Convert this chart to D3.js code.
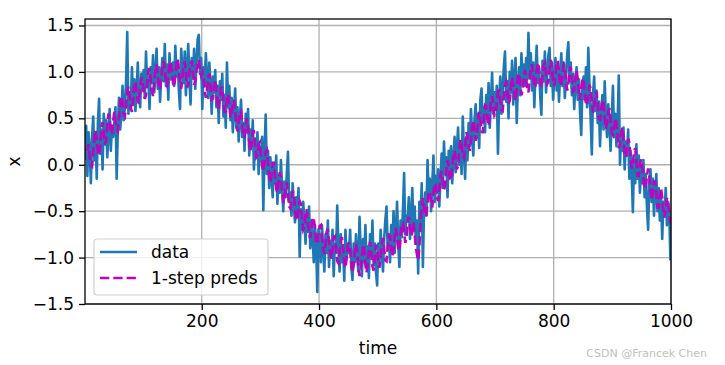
<!DOCTYPE html>
<html><head><meta charset="utf-8">
<script src="https://cdn.jsdelivr.net/npm/d3@7"></script>
<style>
body{margin:0;background:#fff;}
text{font-family:"DejaVu Sans",sans-serif;}
</style></head>
<body>
<svg id="chart" width="725" height="365"></svg>
<script>
// time steps (every 2nd step of 1..1000)
const time = d3.range(1, 1000, 2);
const predTime = d3.range(5, 1000, 2);
const xTicks = [200, 400, 600, 800, 1000];
const yTicks = [-1.5, -1.0, -0.5, 0.0, 0.5, 1.0, 1.5];
const seriesNames = ["data", "1-step preds"];

const data = [
0.05,0.42,-0.12,0.35,0.18,-0.2,0.28,0.52,0.05,0.31,-0.15,0.45,0.71,0.12,0.38,-0.05,0.55,0.22,0.48,0.08,0.35,0.6,0.15,0.42,0.3,
0.45,0.62,-0.15,0.4,0.72,0.38,0.55,0.85,0.48,0.62,0.9,1.43,0.55,0.78,0.6,1.05,0.7,0.92,0.58,0.83,1.1,0.75,0.62,0.98,0.8,
1.02,0.72,1.22,0.85,0.95,0.6,1.05,0.88,1.18,0.78,0.96,1.25,0.82,1.05,0.68,0.98,1.15,0.9,1.3,0.85,1.08,0.7,1.2,0.92,1.05,
1.1,0.85,1.28,0.95,1.12,0.8,0.6,1.25,1.0,0.88,1.22,0.75,1.05,1.3,0.92,0.65,1.15,0.95,1.25,0.82,1.08,1.35,1.4,0.98,1.15,
0.6,1.05,0.85,1.2,0.95,0.72,1.1,0.85,0.55,0.95,0.78,1.02,0.62,0.85,0.45,0.9,0.7,0.98,0.52,0.75,0.4,1.1,0.62,0.85,0.48,
0.72,0.35,0.58,0.82,0.4,0.62,0.25,0.5,0.7,0.3,0.45,0.15,0.55,0.35,0.6,0.1,0.38,0.2,0.48,-0.05,0.28,0.1,0.35,-0.1,0.2,
0.05,0.3,-0.49,0.12,0.54,-0.1,0.15,-0.25,0.08,-0.15,-0.35,0.02,-0.2,0.1,-0.42,-0.12,-0.3,0.05,-0.25,-0.5,-0.18,-0.35,-0.1,0.14,-0.4,
-0.3,-0.55,-0.2,-0.45,-0.62,-0.35,-0.5,-0.25,-0.99,-0.48,-0.7,-0.4,-0.6,-0.85,-0.5,-0.72,-0.45,-0.9,-0.6,-0.78,-1.05,-0.65,-0.85,-1.37,-0.7,
-0.8,-1.05,-0.65,-0.9,-1.15,-0.75,-0.95,-0.6,-1.1,-0.82,-1.0,-0.7,-1.2,-0.85,-0.95,-0.44,-0.9,-1.15,-0.75,-1.05,-0.88,-1.25,-0.7,-1.0,-0.85,
-0.95,-0.7,-1.1,-1.24,-0.85,-1.05,-0.75,-0.98,-1.15,-0.56,-0.92,-1.2,-0.8,-1.05,-0.65,-1.1,-0.88,-1.22,-0.75,-0.98,-0.6,-1.08,-0.85,-1.15,-1.3,
-0.85,-1.05,-0.7,-0.95,-1.15,-0.8,-0.6,-0.45,-0.9,-0.75,-1.05,-0.65,-0.88,-0.5,-0.95,-0.7,-0.4,-0.85,-1.1,-0.6,-0.78,-0.5,-0.09,-0.75,-0.55,
-0.6,-0.35,-0.8,-0.55,-0.25,-0.7,-0.45,-0.85,-0.6,-1.17,-0.4,-0.62,-0.2,-1.1,-0.48,-0.3,-0.55,0.05,-0.35,-0.15,-0.5,-0.22,0.1,-0.4,-0.12,
-0.3,-0.05,-0.45,-0.15,0.12,-0.25,0.25,-0.1,0.08,-0.35,0.15,-0.05,0.2,-0.2,0.05,0.3,-0.08,0.18,0.4,0.0,0.22,-0.1,0.52,0.15,-0.15,
0.3,0.05,0.45,0.2,0.6,0.28,0.1,0.48,0.65,0.3,0.55,0.18,0.7,0.82,0.45,0.62,0.35,0.75,0.5,0.88,0.4,0.68,0.99,0.55,0.78,
0.6,0.85,0.12,0.7,0.95,0.55,0.8,1.05,1.22,0.68,0.9,0.5,1.0,0.78,1.12,0.65,0.92,1.15,0.45,0.85,1.05,0.75,1.2,0.9,1.08,
0.85,1.15,0.92,1.42,0.95,1.2,0.8,1.1,0.62,1.0,1.28,0.88,1.05,0.75,0.54,1.12,0.9,1.22,0.78,1.0,1.18,1.26,0.85,1.1,0.7,
0.95,1.15,0.8,1.05,0.68,0.98,1.2,0.85,1.1,0.72,0.95,1.18,1.32,0.9,1.1,0.75,0.98,0.6,0.88,1.05,0.7,0.92,0.55,0.32,0.85,
0.95,0.7,1.05,0.62,1.26,0.85,0.5,0.11,0.75,0.95,0.58,0.8,0.45,0.68,0.2,0.55,0.75,0.38,0.9,0.5,0.3,0.65,0.42,0.15,0.5,
0.85,0.3,0.55,0.2,0.45,0.96,0.0,0.35,0.15,0.4,-0.05,0.25,0.1,0.38,-0.15,0.15,-0.1,-0.51,0.05,-0.2,0.22,-0.15,0.1,-0.3,0.0,
-0.2,0.05,-0.35,-0.1,-0.45,-0.7,-0.2,-0.05,-0.4,-0.15,-0.55,-0.3,-0.1,-0.5,-0.25,-0.6,-0.35,-0.8,-0.4,-0.55,-0.25,-0.65,-0.4,-0.5,-1.03
];

const preds = [
0.15,0.22,0.09,-0.01,-0.02,0.13,0.29,0.37,0.26,0.13,0.1,0.22,0.39,0.46,0.34,0.22,0.26,0.43,0.55,0.5,0.35,0.33,0.47,
0.57,0.46,0.38,0.36,0.51,0.68,0.74,0.66,0.54,0.52,0.65,0.79,0.84,0.75,0.61,0.57,0.69,0.85,0.9,0.79,0.69,0.66,0.81,0.94,0.91,
0.8,0.71,0.75,0.88,1.01,1.04,0.92,0.79,0.74,0.88,1.03,1.08,0.95,0.85,0.81,0.94,1.07,1.12,1.03,0.88,0.85,0.95,1.09,1.11,1.0,
0.88,0.84,0.96,1.1,1.14,1.02,0.88,0.82,0.93,1.07,1.11,0.99,0.83,0.86,1.0,1.09,1.12,1.0,0.86,0.9,1.02,1.09,1.13,1.02,0.96,
1.0,0.94,0.8,0.72,0.81,0.95,0.98,0.83,0.7,0.71,0.85,0.91,0.8,0.64,0.6,0.72,0.83,0.83,0.7,0.57,0.57,0.71,0.76,0.65,0.51,
0.54,0.66,0.7,0.58,0.43,0.36,0.47,0.57,0.58,0.44,0.3,0.3,0.43,0.5,0.4,0.24,0.15,0.23,0.36,0.36,0.22,0.08,0.1,0.22,0.24,
0.12,-0.02,-0.07,0.03,0.14,0.16,0.02,-0.12,-0.19,-0.1,0.02,0.02,-0.12,-0.26,-0.3,-0.18,-0.08,-0.12,-0.29,-0.41,-0.38,-0.25,-0.19,-0.31,-0.45,
-0.47,-0.39,-0.28,-0.32,-0.46,-0.6,-0.59,-0.49,-0.39,-0.42,-0.59,-0.7,-0.67,-0.54,-0.48,-0.62,-0.75,-0.79,-0.68,-0.57,-0.57,-0.7,-0.85,-0.85,-0.72,
-0.66,-0.65,-0.78,-0.91,-0.96,-0.85,-0.72,-0.69,-0.82,-0.95,-1.01,-0.92,-0.78,-0.77,-0.9,-1.04,-1.06,-0.94,-0.83,-0.78,-0.9,-1.05,-1.11,-1.01,-0.86,
-0.85,-0.92,-1.08,-1.16,-1.08,-0.94,-0.85,-0.94,-1.09,-1.2,-1.12,-0.98,-0.86,-0.92,-1.08,-1.16,-1.06,-0.9,-0.83,-0.95,-1.09,-1.14,-1.0,-0.86,-0.91,
-1.06,-1.11,-0.99,-0.84,-0.79,-0.9,-1.03,-1.04,-0.89,-0.76,-0.77,-0.91,-0.99,-0.92,-0.77,-0.68,-0.77,-0.9,-0.93,-0.77,-0.64,-0.63,-0.73,-0.84,-0.79,
-0.63,-0.56,-0.66,-0.77,-0.73,-0.62,-0.75,-0.89,-0.97,-1.03,-0.89,-0.62,-0.45,-0.36,-0.45,-0.55,-0.55,-0.41,-0.29,-0.29,-0.4,-0.46,-0.32,-0.2,-0.22,
-0.35,-0.39,-0.27,-0.11,-0.07,-0.17,-0.27,-0.23,-0.06,0.05,-0.02,-0.15,-0.17,-0.03,0.11,0.15,0.05,-0.05,-0.01,0.15,0.27,0.21,0.09,0.07,0.21,
0.35,0.31,0.19,0.15,0.27,0.43,0.48,0.38,0.26,0.3,0.47,0.57,0.5,0.37,0.34,0.5,0.64,0.63,0.51,0.42,0.52,0.69,0.74,0.64,0.53,
0.55,0.66,0.79,0.8,0.7,0.59,0.58,0.73,0.86,0.89,0.79,0.66,0.69,0.84,0.94,0.87,0.74,0.69,0.82,0.95,0.98,0.87,0.75,0.8,0.95,
1.02,0.94,0.81,0.78,0.92,1.05,1.08,0.96,0.83,0.85,1.01,1.1,1.03,0.89,0.83,0.96,1.08,1.1,0.99,0.87,0.89,1.03,1.13,1.05,0.9,
0.85,0.95,1.09,1.12,1.0,0.86,0.85,0.97,1.08,1.06,0.91,0.8,0.88,1.01,1.06,0.93,0.79,0.8,0.93,1.02,0.92,0.76,0.7,0.82,0.93,
0.92,0.79,0.66,0.64,0.75,0.86,0.82,0.67,0.56,0.62,0.75,0.79,0.66,0.5,0.49,0.59,0.7,0.66,0.5,0.39,0.45,0.57,0.61,0.48,0.34,
0.32,0.42,0.5,0.46,0.3,0.18,0.22,0.34,0.4,0.28,0.12,0.08,0.18,0.28,0.24,0.08,-0.04,0.02,0.14,0.18,0.04,-0.12,-0.12,0.0,0.06,
-0.02,-0.16,-0.26,-0.24,-0.12,-0.04,-0.12,-0.28,-0.38,-0.3,-0.18,-0.18,-0.32,-0.46,-0.46,-0.33,-0.25,-0.35,-0.51,-0.57,-0.46,-0.36,-0.4,-0.55,-0.63
];

const svg = d3.select("#chart");
const L = 85, R = 671, T = 19, B = 304;
const FS = "17px";
const x = d3.scaleLinear().domain([1, 1000]).range([L, R]);
const y = d3.scaleLinear().domain([-1.5, 1.57]).range([B, T]);

svg.append("defs").append("clipPath").attr("id","clip")
  .append("rect").attr("x",L).attr("y",T).attr("width",R-L).attr("height",B-T);

// grid
const grid = svg.append("g");
grid.selectAll(".gx").data(xTicks).join("line")
  .attr("x1",d=>x(d)).attr("x2",d=>x(d)).attr("y1",T).attr("y2",B)
  .attr("stroke","#b0b0b0").attr("stroke-width",1.3);
grid.selectAll(".gy").data(yTicks).join("line")
  .attr("x1",L).attr("x2",R).attr("y1",d=>y(d)).attr("y2",d=>y(d))
  .attr("stroke","#b0b0b0").attr("stroke-width",1.3);

const nD = Math.min(time.length, data.length);
const dPts = d3.range(nD).map(i => [time[i], data[i]]);
const nP = Math.min(predTime.length, preds.length);
const pPts = d3.range(nP).map(i => [predTime[i], preds[i]]);
const line = d3.line().x(d=>x(d[0])).y(d=>y(d[1]));

const plot = svg.append("g").attr("clip-path","url(#clip)");
plot.append("path").datum(dPts).attr("d",line)
  .attr("fill","none").attr("stroke","#1f77b4").attr("stroke-width",2.6)
  .attr("stroke-linejoin","round");
plot.append("path").datum(pPts).attr("d",line)
  .attr("fill","none").attr("stroke","#bf00bf").attr("stroke-width",2.6)
  .attr("stroke-dasharray","9.3,4");

// axes
const xAxis = svg.append("g").attr("transform",`translate(0,${B})`)
  .call(d3.axisBottom(x).tickValues(xTicks).tickFormat(d3.format("d")).tickSize(6).tickPadding(5).tickSizeOuter(0));
const yAxis = svg.append("g").attr("transform",`translate(${L},0)`)
  .call(d3.axisLeft(y).tickValues(yTicks).tickFormat(d3.format(".1f")).tickSize(6).tickPadding(5).tickSizeOuter(0));
[xAxis, yAxis].forEach(g => {
  g.select(".domain").remove();
  g.selectAll(".tick line").attr("stroke","#000").attr("stroke-width",1.3);
  g.selectAll(".tick text").attr("fill","#000").style("font-size",FS).style("font-family","DejaVu Sans");
});

// spines
svg.append("rect").attr("x",L).attr("y",T).attr("width",R-L).attr("height",B-T)
  .attr("fill","none").attr("stroke","#000").attr("stroke-width",1.3);

// labels
svg.append("text").attr("x",(L+R)/2).attr("y",354).attr("text-anchor","middle")
  .style("font-size",FS).text("time");
svg.append("text").attr("transform",`translate(20,${(T+B)/2}) rotate(-90)`)
  .attr("text-anchor","middle").style("font-size",FS).text("x");

// legend
const lg = svg.append("g");
lg.append("rect").attr("x",94).attr("y",239).attr("width",174).attr("height",56)
  .attr("rx",3).attr("fill","#fff").attr("fill-opacity",0.8).attr("stroke","#d0d0d0").attr("stroke-width",1.2);
const lgY = [252, 278];
lg.append("line").attr("x1",100).attr("x2",137).attr("y1",lgY[0]).attr("y2",lgY[0])
  .attr("stroke","#1f77b4").attr("stroke-width",2.6);
lg.append("line").attr("x1",100).attr("x2",137).attr("y1",lgY[1]).attr("y2",lgY[1])
  .attr("stroke","#bf00bf").attr("stroke-width",2.6).attr("stroke-dasharray","9.3,4");
lg.selectAll(".lt").data(seriesNames).join("text")
  .attr("x",151).attr("y",(d,i)=>lgY[i]+6).style("font-size",FS).text(d=>d);

// watermark
svg.append("text").attr("x",707).attr("y",357).attr("text-anchor","end")
  .attr("fill","#c0c0c0").style("font-size","11px").text("CSDN @Francek Chen");
</script>
</body></html>
